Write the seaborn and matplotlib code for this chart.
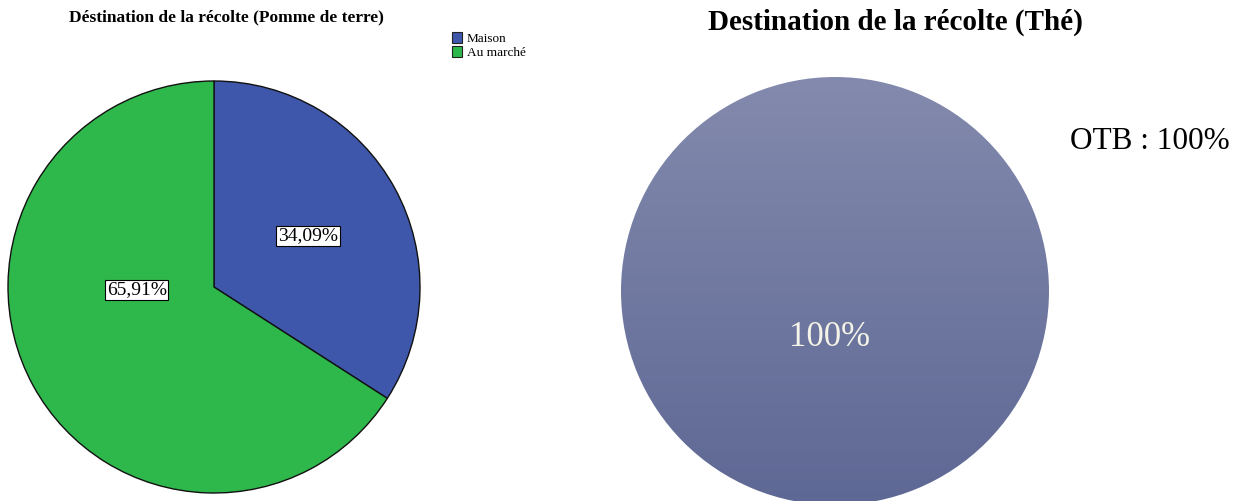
import numpy as np
import matplotlib
matplotlib.use("Agg")
import matplotlib.pyplot as plt
import seaborn as sns

# ---- data ----
potato_title = "Déstination de la récolte (Pomme de terre)"
potato_labels = ["Maison", "Au marché"]
potato_values = [34.09, 65.91]

tea_title = "Destination de la récolte (Thé)"
tea_labels = ["OTB"]
tea_values = [100]

# ---- style ----
sns.set_theme(style="white")
plt.rcParams["font.family"] = ["Liberation Serif", "DejaVu Serif"]
plt.rcParams["text.color"] = "black"

W, H = 1242, 501
fig = plt.figure(figsize=(W / 100, H / 100), dpi=100)
ax = fig.add_axes([0, 0, 1, 1])

potato_colors = ["#3E57AA", "#2EB84C"]

# left pie
lc = (214, H - 287)
lr = 206
wedges, texts, autotexts = ax.pie(
    potato_values, colors=potato_colors, startangle=90, counterclock=False,
    center=lc, radius=lr, autopct=lambda p: f"{p:.2f}%".replace(".", ","),
    pctdistance=0.52,
    wedgeprops=dict(edgecolor="#111111", linewidth=1.0),
    textprops=dict(fontsize=14, color="black"),
)
# second label sits close to the horizontal line in the reference
autotexts[1].set_position((lc[0] - 0.375 * lr, lc[1] - 0.015 * lr))
for t in autotexts:
    t.set_bbox(dict(boxstyle="square,pad=0.08", fc="white", ec="black", lw=0.8))

ax.legend(wedges, potato_labels, loc="upper left", bbox_to_anchor=(452 / W, 1 - 32 / H),
          bbox_transform=fig.transFigure, frameon=False, fontsize=9.5,
          handlelength=0.75, handleheight=0.85, handletextpad=0.35, labelspacing=0.1,
          borderpad=0, borderaxespad=0, labelcolor="black")
for h in ax.get_legend().legend_handles:
    h.set_edgecolor("#222222")
    h.set_linewidth(0.8)

fig.text(226 / W, 1 - 17 / H, potato_title, ha="center", va="center",
         fontsize=12.5, fontweight="bold", color="black")

# right pie with vertical gradient
rc = (835, H - 291)
rr = 214
tw, _ = ax.pie(tea_values, startangle=90, center=rc, radius=rr,
               wedgeprops=dict(facecolor="none", edgecolor="none"))
grad = np.linspace(0, 1, 256)[:, None]
top = np.array([131, 138, 173]) / 255
bot = np.array([94, 104, 148]) / 255
img = top[None, None, :] * (1 - grad[:, :, None]) + bot[None, None, :] * grad[:, :, None]
im = ax.imshow(img, extent=[rc[0] - rr, rc[0] + rr, rc[1] - rr, rc[1] + rr],
               origin="upper", aspect="auto", zorder=0.5)
im.set_clip_path(tw[0])
ax.text(rc[0] - 5, rc[1] - 47, f"{tea_values[0]}%", ha="center", va="center",
        fontsize=25, color="#F4F4E8")

fig.text(895 / W, 1 - 22 / H, tea_title, ha="center", va="center",
         fontsize=21, fontweight="bold", color="black")
fig.text(1150 / W, 1 - 142 / H, f"{tea_labels[0]} : {tea_values[0]}%", ha="center",
         va="center", fontsize=22.5, color="black")

ax.set_xlim(0, W)
ax.set_ylim(0, H)
ax.set_aspect("equal")
ax.axis("off")

fig.savefig("out.png", dpi=100, facecolor="white")
